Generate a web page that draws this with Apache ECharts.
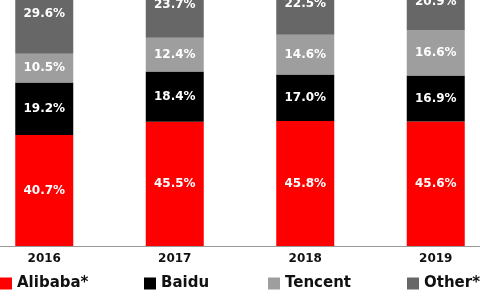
<!DOCTYPE html>
<html><head><meta charset="utf-8">
<script src="https://cdn.jsdelivr.net/npm/echarts@6/dist/echarts.min.js"></script>
<style>html,body{margin:0;padding:0;background:#fff}#c{width:480px;height:300px}</style>
</head><body><div id="c"></div>
<script>
var years = ['2016', '2017', '2018', '2019'];
var alibaba = [40.7, 45.5, 45.8, 45.6];
var baidu = [19.2, 18.4, 17.0, 16.9];
var tencent = [10.5, 12.4, 14.6, 16.6];
var other = [29.6, 23.7, 22.5, 20.9];
var names = ['Alibaba*', 'Baidu', 'Tencent', 'Other**'];
var colors = ['#ff0000', '#000000', '#9e9e9e', '#676767'];
var legendLeft = [0, 144, 268, 407];

var FONT = 'DejaVu Sans';
var chart = echarts.init(document.getElementById('c'));
var seriesData = [alibaba, baidu, tencent, other];
var series = seriesData.map(function (d, i) {
  return {
    name: names[i], type: 'bar', stack: 's', data: d, barWidth: 58, clip: false,
    itemStyle: { color: colors[i] },
    label: {
      show: true, position: 'inside', color: '#fff', fontFamily: FONT,
      fontWeight: 'bold', fontSize: 12,
      formatter: function (p) { return p.value.toFixed(1) + '%'; }
    }
  };
});
var legends = names.map(function (n, i) {
  return {
    data: [n], left: legendLeft[i], top: 276, padding: 0,
    itemWidth: 12, itemHeight: 12, icon: 'rect', itemGap: 0,
    textStyle: { fontFamily: FONT, fontWeight: 'bold', fontSize: 15, color: '#111' }
  };
});
chart.setOption({
  animation: false,
  color: colors,
  grid: { left: -21, width: 522, top: -27, height: 273, outerBoundsMode: 'none', containLabel: false },
  legend: legends,
  xAxis: {
    type: 'category', data: years,
    axisLine: { lineStyle: { color: '#999', width: 1 } },
    axisTick: { show: false },
    axisLabel: { fontFamily: FONT, fontWeight: 'bold', fontSize: 12, color: '#111', margin: 7 }
  },
  yAxis: { type: 'value', min: 0, max: 100, show: false, splitLine: { show: false } },
  series: series
});
</script></body></html>
